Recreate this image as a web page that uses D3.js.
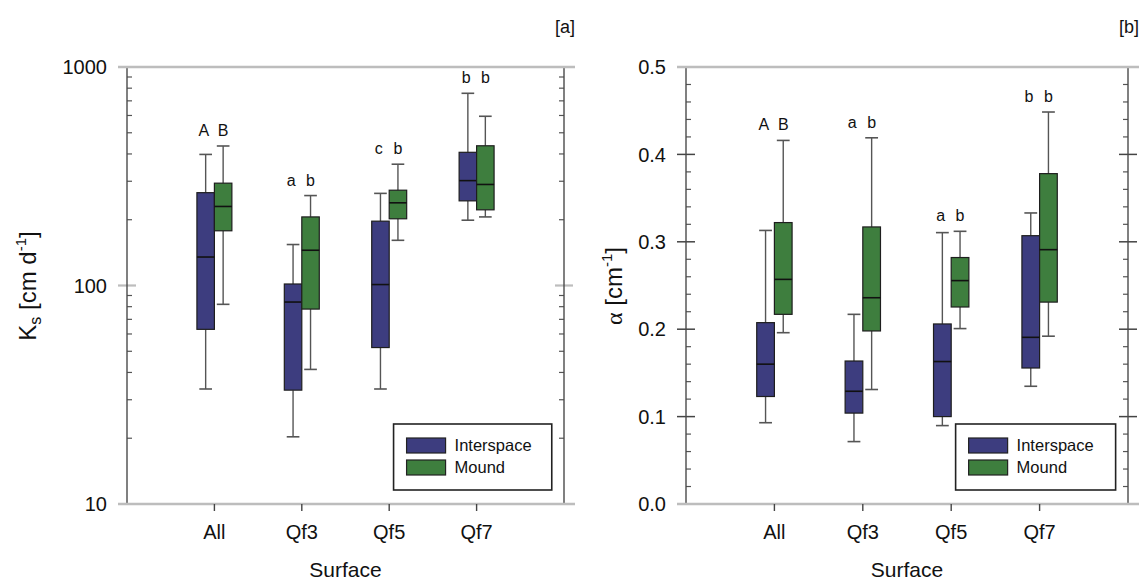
<!DOCTYPE html>
<html>
<head>
<meta charset="utf-8">
<script src="https://cdn.jsdelivr.net/npm/d3@7"></script>
<style>
  html, body { margin: 0; padding: 0; background: #fff; }
  svg { display: block; font-family: "Liberation Sans", Arial, sans-serif; }
</style>
</head>
<body>
<svg id="chart" width="1144" height="584"></svg>
<script>
// ---------------- data ----------------
const categories = ["All", "Qf3", "Qf5", "Qf7"];
const seriesNames = ["Interspace", "Mound"];
// [lower whisker, Q1, median, Q3, upper whisker]
const ksInterspace = [[33.6, 63, 135, 266, 398], [20.3, 33.2, 84, 101.6, 154], [33.6, 52, 101, 197, 264], [199, 244, 302, 407, 758]];
const ksMound      = [[82, 178, 230, 294, 435], [41.3, 78, 145, 206, 258], [161, 202, 239, 273, 359], [206, 222, 290, 436, 595]];
const alphaInterspace = [[0.093, 0.123, 0.160, 0.2075, 0.313], [0.0714, 0.104, 0.129, 0.1636, 0.217], [0.0897, 0.100, 0.163, 0.206, 0.3105], [0.1347, 0.1556, 0.1907, 0.307, 0.333]];
const alphaMound      = [[0.196, 0.217, 0.257, 0.322, 0.416], [0.131, 0.198, 0.236, 0.317, 0.419], [0.2007, 0.2254, 0.2556, 0.282, 0.312], [0.192, 0.231, 0.291, 0.378, 0.4485]];
const ksLetters    = [["A", "B"], ["a", "b"], ["c", "b"], ["b", "b"]];
const alphaLetters = [["A", "B"], ["a", "b"], ["a", "b"], ["b", "b"]];
const ksMajorTicks = [10, 100, 1000];
const ksMinorTicks = [20, 30, 40, 50, 60, 70, 80, 90, 200, 300, 400, 500, 600, 700, 800, 900];
const alphaMajorTicks = [0.0, 0.1, 0.2, 0.3, 0.4, 0.5];
const alphaMinorTicks = [0.02, 0.04, 0.06, 0.08, 0.12, 0.14, 0.16, 0.18, 0.22, 0.24, 0.26, 0.28, 0.32, 0.34, 0.36, 0.38, 0.42, 0.44, 0.46, 0.48];

const colors = ["#3d3d7f", "#3e7e3e"];

const svg = d3.select("#chart");

function panel(o) {
  const g = svg.append("g");
  const x = d3.scaleLinear().domain([0, 5]).range([o.x0, o.x1]);
  const y = o.y;
  const [yBot, yTop] = y.range();

  // minor ticks (inward) on both axes
  g.selectAll(".minL").data(o.minor).join("line")
    .attr("x1", o.x0).attr("x2", o.x0 + 5)
    .attr("y1", d => y(d)).attr("y2", d => y(d))
    .attr("stroke", "#555").attr("stroke-width", 1.2);
  g.selectAll(".minR").data(o.minor).join("line")
    .attr("x1", o.x1 - 5).attr("x2", o.x1)
    .attr("y1", d => y(d)).attr("y2", d => y(d))
    .attr("stroke", "#555").attr("stroke-width", 1.2);
  // major ticks crossing axes (except frame ends)
  const inner = o.major.slice(1, -1);
  [o.x0, o.x1].forEach(ax => {
    g.selectAll(null).data(inner).join("line")
      .attr("x1", ax - 9).attr("x2", ax + 9)
      .attr("y1", d => y(d)).attr("y2", d => y(d))
      .attr("stroke", o.majorColor).attr("stroke-width", o.majorWidth);
  });
  // axis vertical lines
  [o.x0, o.x1].forEach(ax => {
    g.append("line").attr("x1", ax).attr("x2", ax).attr("y1", yTop).attr("y2", yBot)
      .attr("stroke", "#4a4a4a").attr("stroke-width", 1.4);
  });
  // top and bottom frame lines
  [yTop, yBot].forEach(yy => {
    g.append("line").attr("x1", o.x0 - 9).attr("x2", o.x1 + 11).attr("y1", yy).attr("y2", yy)
      .attr("stroke", "#bdbdbd").attr("stroke-width", 2.5);
  });
  // y tick labels
  g.selectAll(".ytl").data(o.major).join("text")
    .attr("x", o.x0 - 20).attr("y", d => y(d)).attr("dy", "0.36em")
    .attr("text-anchor", "end").attr("font-size", 20).attr("fill", "#111")
    .text(o.fmt);
  // x ticks and labels
  const cats = categories.map((c, i) => ({ c, v: i + 1 }));
  g.selectAll(".xt").data(cats).join("line")
    .attr("x1", d => x(d.v)).attr("x2", d => x(d.v)).attr("y1", yBot).attr("y2", yBot + 7)
    .attr("stroke", "#444").attr("stroke-width", 1.4);
  g.selectAll(".xl").data(cats).join("text")
    .attr("x", d => x(d.v)).attr("y", 539).attr("text-anchor", "middle")
    .attr("font-size", 20).attr("fill", "#111").text(d => d.c);
  // x title
  g.append("text").attr("x", (o.x0 + o.x1) / 2).attr("y", 577).attr("text-anchor", "middle")
    .attr("font-size", 21).attr("fill", "#111").text("Surface");

  // boxes
  const bw = x(0.2) - x(0);
  const capW = x(0.145) - x(0);
  [o.inter, o.mound].forEach((series, si) => {
    series.forEach((s, ci) => {
      const cx = x(ci + 1 + (si === 0 ? -0.1 : 0.1));
      const [lo, q1, med, q3, hi] = s;
      g.append("line").attr("x1", cx).attr("x2", cx).attr("y1", y(hi)).attr("y2", y(q3))
        .attr("stroke", "#555").attr("stroke-width", 1.4);
      g.append("line").attr("x1", cx).attr("x2", cx).attr("y1", y(q1)).attr("y2", y(lo))
        .attr("stroke", "#555").attr("stroke-width", 1.4);
      [lo, hi].forEach(v => {
        g.append("line").attr("x1", cx - capW / 2).attr("x2", cx + capW / 2)
          .attr("y1", y(v)).attr("y2", y(v)).attr("stroke", "#555").attr("stroke-width", 1.6);
      });
      g.append("rect").attr("x", cx - bw / 2).attr("y", y(q3)).attr("width", bw)
        .attr("height", y(q1) - y(q3)).attr("fill", colors[si])
        .attr("stroke", "#1e1e1e").attr("stroke-width", 1.2);
      g.append("line").attr("x1", cx - bw / 2).attr("x2", cx + bw / 2)
        .attr("y1", y(med)).attr("y2", y(med)).attr("stroke", "#111").attr("stroke-width", 1.6);
    });
  });
  // significance letters
  o.letters.forEach((pair, ci) => {
    const hiPix = Math.min(y(o.inter[ci][4]), y(o.mound[ci][4]));
    pair.forEach((l, si) => {
      g.append("text").attr("x", x(ci + 1 + (si === 0 ? -0.12 : 0.1))).attr("y", hiPix - 10)
        .attr("text-anchor", "middle").attr("font-size", 16).attr("fill", "#111").text(l);
    });
  });

  // legend
  const lx0 = x(0.61 * 5), lx1 = x(0.972 * 5);
  g.append("rect").attr("x", lx0).attr("y", 424).attr("width", lx1 - lx0).attr("height", 66)
    .attr("fill", "#fff").attr("stroke", "#222").attr("stroke-width", 1.6);
  seriesNames.forEach((n, i) => {
    const sy = 438 + i * 22;
    g.append("rect").attr("x", lx0 + 13).attr("y", sy).attr("width", 39).attr("height", 15)
      .attr("fill", colors[i]).attr("stroke", "#222").attr("stroke-width", 1.2);
    g.append("text").attr("x", lx0 + 61).attr("y", sy + 13).attr("font-size", 16.5)
      .attr("fill", "#111").text(n);
  });
  // panel tag
  g.append("text").attr("x", o.x1 + 11).attr("y", 33).attr("text-anchor", "end")
    .attr("font-size", 18).attr("fill", "#111").text(o.tag);
  return g;
}

panel({
  x0: 127, x1: 564,
  y: d3.scaleLog().domain([10, 1000]).range([504, 67]),
  major: ksMajorTicks, minor: ksMinorTicks, fmt: d => String(d),
  majorColor: "#bdbdbd", majorWidth: 2.2,
  inter: ksInterspace, mound: ksMound, letters: ksLetters, tag: "[a]"
});
panel({
  x0: 686, x1: 1128,
  y: d3.scaleLinear().domain([0, 0.5]).range([504, 67]),
  major: alphaMajorTicks, minor: alphaMinorTicks, fmt: d => d.toFixed(1),
  majorColor: "#444", majorWidth: 1.5,
  inter: alphaInterspace, mound: alphaMound, letters: alphaLetters, tag: "[b]"
});

// y axis titles
const t1 = svg.append("text").attr("transform", "translate(36,286) rotate(-90)")
  .attr("text-anchor", "middle").attr("font-size", 24).attr("fill", "#111");
t1.append("tspan").text("K");
t1.append("tspan").attr("font-size", 16).attr("dy", 5).text("s");
t1.append("tspan").attr("dy", -5).text(" [cm d");
t1.append("tspan").attr("font-size", 15).attr("dy", -10).text("-1");
t1.append("tspan").attr("dy", 10).text("]");

const t2 = svg.append("text").attr("transform", "translate(622,286) rotate(-90)")
  .attr("text-anchor", "middle").attr("font-size", 24).attr("fill", "#111");
t2.append("tspan").attr("font-family", "'Liberation Serif', serif").text("α");
t2.append("tspan").text(" [cm");
t2.append("tspan").attr("font-size", 15).attr("dy", -10).text("-1");
t2.append("tspan").attr("dy", 10).text("]");
</script>
</body>
</html>
